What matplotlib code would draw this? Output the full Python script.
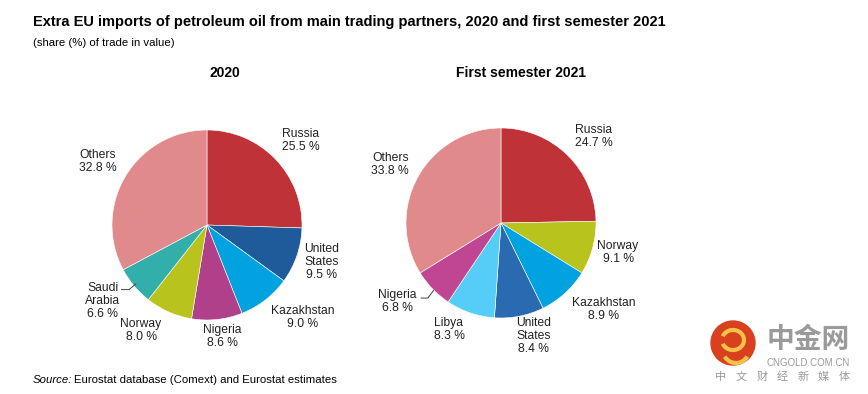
import matplotlib
matplotlib.use('Agg')
import numpy as np
import matplotlib.pyplot as plt
from matplotlib.patches import Circle, Arc

plt.rcParams['font.family'] = ['Liberation Sans', 'Noto Sans CJK SC', 'DejaVu Sans']

# data
labels_2020 = ['Russia', 'United\nStates', 'Kazakhstan', 'Nigeria', 'Norway', 'Saudi\nArabia', 'Others']
shares_2020 = [25.5, 9.5, 9.0, 8.6, 8.0, 6.6, 32.8]
colors_2020 = ['#BE3238', '#1F5B9B', '#00A3E0', '#B1408A', '#B9C31E', '#33AFAB', '#E08A8B']

labels_2021 = ['Russia', 'Norway', 'Kazakhstan', 'United\nStates', 'Libya', 'Nigeria', 'Others']
shares_2021 = [24.7, 9.1, 8.9, 8.4, 8.3, 6.8, 33.8]
colors_2021 = ['#BE3238', '#B9C31E', '#00A3E0', '#2A6AB1', '#55CDF6', '#C04694', '#E08A8B']

# label placement (angle in degrees, distance in radii) - layout only
place_2020 = [(42, 1.33), (-18, 1.27), (-44, 1.40), (-82, 1.19), (-122, 1.31), (-144, 1.36), (150, 1.33)]
place_2021 = [(43, 1.33), (-14, 1.27), (-40, 1.41), (-74, 1.24), (-116, 1.25), (-143, 1.37), (152, 1.32)]

W, H = 868, 394
fig = plt.figure(figsize=(W / 100, H / 100), dpi=100)


def px(x, y):
    return x / W, 1 - y / H


def draw_pie(cx, cy, r, shares, colors, labels, place, leader=None):
    ax = fig.add_axes([(cx - r) / W, (H - cy - r) / H, 2 * r / W, 2 * r / H])
    ax.pie(shares, colors=colors, startangle=90, counterclock=False, radius=1,
           wedgeprops=dict(edgecolor='white', linewidth=0.4))
    ax.set_xlim(-1, 1)
    ax.set_ylim(-1, 1)
    ax.set_aspect('equal')
    ax.axis('off')
    for lab, val, (ang, d) in zip(labels, shares, place):
        a = np.deg2rad(ang)
        ax.text(d * np.cos(a), d * np.sin(a), '%s\n%.1f %%' % (lab, val),
                ha='center', va='center', fontsize=8.7, color='#222222',
                linespacing=1.1, clip_on=False)
    if leader is not None:
        ax.plot(leader[0], leader[1], color='#444444', linewidth=0.7, clip_on=False)
    return ax


draw_pie(207, 225, 95, shares_2020, colors_2020, labels_2020, place_2020,
         leader=([-0.90, -0.82, -0.75], [-0.68, -0.68, -0.62]))
draw_pie(501, 223, 95, shares_2021, colors_2021, labels_2021, place_2021,
         leader=([-0.84, -0.77, -0.71], [-0.79, -0.79, -0.71]))

fig.text(*px(225, 73), '2020', ha='center', va='center', fontsize=10, fontweight='bold')
fig.text(*px(521, 73), 'First semester 2021', ha='center', va='center', fontsize=10, fontweight='bold')

fig.text(*px(33, 22), 'Extra EU imports of petroleum oil from main trading partners, 2020 and first semester 2021',
         ha='left', va='center', fontsize=10.55, fontweight='bold')
fig.text(*px(33, 43), '(share (%) of trade in value)', ha='left', va='center', fontsize=8.2)

fig.text(*px(33, 380), 'Source:', ha='left', va='center', fontsize=8.2, style='italic')
fig.text(*px(74, 380), 'Eurostat database (Comext) and Eurostat estimates', ha='left', va='center', fontsize=8.2)

# watermark
wax = fig.add_axes([0, 0, 1, 1], facecolor='none')
wax.set_xlim(0, W)
wax.set_ylim(H, 0)
wax.axis('off')
wax.add_patch(Circle((733, 343), 22, color='#D9411E'))
wax.add_patch(Arc((733, 340), 22, 20, theta1=200, theta2=520, color='#F6C24A', linewidth=3))
wax.add_patch(Arc((736, 350), 26, 26, theta1=30, theta2=150, color='#F6C24A', linewidth=3))
wax.text(808, 340, '中金网', ha='center', va='center', fontsize=20, color='#9A9A9A',
         family=['Noto Sans CJK SC', 'DejaVu Sans'], fontweight='bold')
wax.text(808, 363, 'CNGOLD.COM.CN', ha='center', va='center', fontsize=7.0, color='#9A9A9A')
for i, ch in enumerate('中文财经新媒体'):
    wax.text(721 + 20.5 * i, 377, ch, ha='center', va='center', fontsize=8, color='#9A9A9A',
             family=['Noto Sans CJK SC', 'DejaVu Sans'])

fig.savefig('out.png', dpi=100)
